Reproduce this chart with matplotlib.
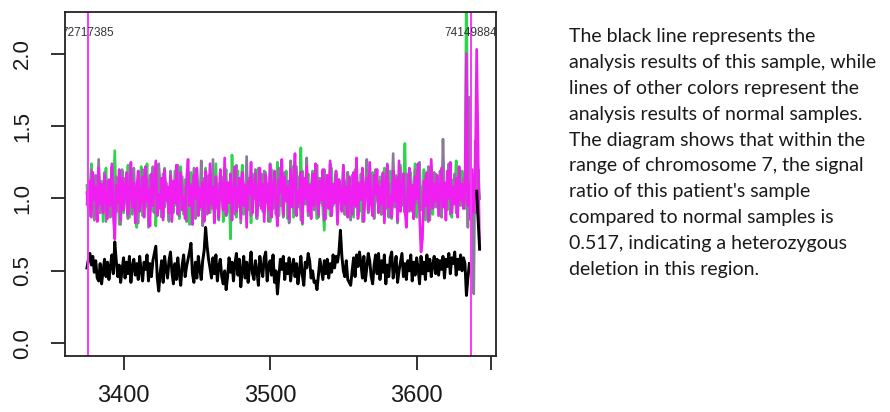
import numpy as np
import matplotlib.pyplot as plt

# probe index of the first point; every series runs one point per probe
start = 3375
x_tail = list(range(3634, 3644))

# ratios in hundredths
black_main = [
    52, 58, 62, 54, 60, 49, 57, 45, 43, 55, 41, 50, 58, 46, 56, 44, 53, 61, 48, 70,
    57, 46, 54, 42, 51, 59, 45, 56, 48, 60, 42, 53, 58, 47, 55, 44, 60, 50, 43, 56,
    51, 61, 43, 55, 46, 57, 62, 67, 45, 36, 49, 57, 42, 60, 51, 45, 57, 63, 49, 41,
    55, 44, 59, 48, 40, 54, 61, 46, 53, 58, 63, 69, 48, 42, 56, 45, 60, 51, 44, 57,
    64, 80, 67, 58, 52, 45, 59, 48, 61, 43, 53, 58, 46, 41, 50, 37, 46, 59, 49, 56,
    43, 55, 62, 47, 58, 39, 50, 60, 45, 56, 42, 53, 63, 48, 44, 57, 50, 40, 60, 52,
    46, 59, 63, 43, 53, 57, 47, 61, 42, 50, 34, 46, 58, 51, 60, 44, 55, 48, 59, 43,
    53, 58, 46, 55, 41, 50, 60, 47, 40, 56, 52, 62, 57, 45, 50, 42, 43, 37, 47, 58,
    51, 44, 57, 48, 58, 45, 55, 49, 61, 52, 60, 56, 63, 78, 60, 50, 46, 57, 44, 42,
    40, 50, 59, 46, 61, 53, 63, 55, 45, 60, 43, 52, 62, 57, 46, 41, 54, 61, 48, 62,
    44, 57, 49, 61, 41, 54, 46, 59, 63, 45, 52, 60, 42, 50, 56, 62, 46, 55, 44, 57,
    50, 61, 43, 56, 47, 59, 52, 41, 60, 48, 56, 44, 61, 50, 58, 46, 54, 60, 48, 58,
    47, 57, 51, 60, 45, 58, 53, 62, 48, 59, 55, 63, 47, 58, 51, 61, 50, 59, 55,
]
black_tail = [33, 45, 55, np.nan, np.nan, np.nan, np.nan, 105, 85, 65]

magenta_main = [
    104, 93, 112, 87, 118, 99, 108, 84, 121, 96, 110, 90, 116, 101, 86, 113, 95, 124, 88, 72,
    109, 97, 120, 85, 114, 92, 105, 118, 89, 102, 125, 94, 111, 83, 107, 119, 91, 100, 115, 87,
    122, 98, 106, 81, 117, 95, 110, 126, 88, 103, 93, 114, 85, 120, 99, 108, 90, 116, 84, 112,
    97, 123, 89, 105, 118, 92, 101, 86, 113, 127, 95, 109, 82, 116, 100, 121, 88, 107, 94, 111,
    84, 119, 102, 90, 124, 96, 108, 83, 115, 99, 87, 120, 105, 92, 128, 89, 111, 97, 117, 85,
    106, 122, 91, 100, 114, 86, 118, 95, 109, 80, 112, 103, 125, 90, 107, 117, 88, 99, 121, 93,
    110, 84, 116, 101, 92, 123, 87, 106, 119, 96, 81, 113, 104, 127, 89, 115, 98, 108, 86, 120,
    94, 111, 131, 88, 105, 97, 118, 83, 114, 100, 122, 91, 109, 86, 117, 95, 124, 102, 89, 112,
    99, 120, 85, 107, 116, 93, 126, 88, 110, 97, 119, 82, 113, 104, 91, 123, 96, 108, 87, 115,
    101, 89, 118, 95, 128, 86, 110, 99, 121, 84, 106, 114, 92, 125, 97, 88, 116, 103, 120, 90,
    108, 96, 117, 83, 111, 123, 94, 102, 87, 119, 98, 113, 85, 126, 91, 107, 117, 93, 80, 104,
    121, 92, 109, 86, 115, 100, 124, 89, 63, 72, 112, 95, 118, 84, 106, 127, 93, 110, 98, 116,
    88, 105, 121, 94, 111, 85, 119, 100, 125, 90, 108, 96, 114, 87, 122, 99, 110, 93, 105,
]
magenta_tail = [200, 95, 110, 85, 120, 90, 115, 203, 130, 65]

gray_main = [
    96, 111, 88, 120, 102, 85, 116, 93, 127, 90, 107, 98, 118, 84, 112, 100, 87, 122, 95, 108,
    115, 91, 104, 82, 119, 94, 110, 99, 86, 117, 103, 89, 121, 97, 108, 83, 114, 101, 120, 92,
    95, 113, 80, 116, 104, 122, 90, 106, 98, 124, 109, 87, 117, 94, 111, 100, 85, 119, 106, 91,
    112, 97, 123, 88, 102, 115, 93, 108, 84, 118, 96, 110, 91, 121, 86, 113, 104, 95, 126, 81,
    114, 99, 89, 116, 105, 93, 127, 90, 107, 98, 85, 118, 102, 94, 121, 88, 109, 97, 115, 92,
    106, 89, 123, 99, 112, 83, 118, 103, 96, 129, 93, 114, 88, 107, 100, 120, 86, 111, 102, 117,
    91, 119, 97, 110, 84, 124, 100, 93, 115, 89, 108, 121, 95, 104, 87, 118, 99, 112, 83, 126,
    98, 107, 90, 122, 94, 113, 85, 119, 101, 96, 128, 88, 110, 99, 116, 92, 105, 123, 87, 114,
    103, 95, 120, 86, 111, 100, 124, 91, 108, 97, 117, 84, 113, 106, 93, 121, 89, 109, 118, 96,
    85, 116, 102, 94, 123, 88, 111, 99, 119, 92, 106, 127, 90, 114, 97, 108, 86, 120, 101, 95,
    112, 89, 118, 105, 93, 124, 87, 110, 98, 131, 94, 115, 83, 107, 121, 96, 104, 90, 117, 99,
    91, 113, 100, 86, 120, 97, 109, 125, 92, 104, 88, 116, 99, 122, 85, 110, 102, 118, 94, 107,
    96, 119, 87, 141, 101, 93, 112, 124, 89, 105, 98, 117, 90, 108, 121, 95, 103, 114, 97,
]
gray_tail = [130, 80, 170, 90, 110, 34, 140, 90, 120, 100]

green_main = [
    109, 90, 103, 124, 93, 115, 86, 106, 118, 97, 112, 84, 107, 121, 95, 110, 88, 117, 100, 133,
    94, 113, 82, 106, 120, 90, 114, 98, 123, 87, 101, 118, 92, 108, 80, 116, 99, 122, 88, 110,
    96, 124, 85, 112, 102, 91, 119, 81, 105, 117, 93, 110, 87, 121, 98, 106, 84, 115, 101, 90,
    119, 95, 108, 86, 122, 100, 89, 113, 97, 105, 82, 118, 94, 111, 88, 120, 103, 92, 116, 107,
    85, 121, 96, 109, 90, 117, 101, 88, 124, 93, 110, 99, 115, 84, 107, 120, 91, 104, 72, 130,
    98, 112, 87, 119, 94, 106, 123, 89, 101, 116, 92, 108, 83, 117, 100, 111, 86, 121, 95, 104,
    113, 90, 118, 97, 105, 84, 120, 93, 110, 99, 125, 88, 107, 116, 91, 103, 119, 86, 112, 96,
    122, 87, 109, 100, 115, 94, 135, 82, 111, 98, 104, 117, 90, 108, 119, 93, 101, 86, 114, 97,
    107, 92, 78, 116, 99, 110, 88, 121, 95, 104, 117, 85, 112, 100, 93, 123, 89, 106, 118, 96,
    102, 114, 87, 120, 98, 109, 91, 117, 84, 111, 103, 125, 92, 106, 96, 118, 88, 113, 101, 94,
    115, 89, 104, 121, 93, 108, 97, 119, 86, 112, 100, 116, 90, 107, 123, 95, 102, 138, 88, 110,
    96, 118, 91, 105, 124, 87, 113, 99, 108, 92, 120, 85, 111, 103, 97, 122, 89, 106, 117, 94,
    101, 115, 88, 123, 96, 109, 92, 118, 105, 87, 113, 100, 126, 91, 107, 97, 119, 110, 93,
]
green_tail = [260, 100, 110, 95, 105, 100, 110, 95, 105, 100]

region_start = 3375.4
region_end = 3637
region_labels = ["72717385", "74149884"]

x_ticks = [3400, 3500, 3600, 3651]
x_ticklabels = ["3400", "3500", "3600", ""]
y_ticks = [0.0, 0.5, 1.0, 1.5, 2.0]

note = [
    "The black line represents the",
    "analysis results of this sample, while",
    "lines of other colors represent the",
    "analysis results of normal samples.",
    "The diagram shows that within the",
    "range of chromosome 7, the signal",
    "ratio of this patient's sample",
    "compared to normal samples is",
    "0.517, indicating a heterozygous",
    "deletion in this region.",
]


def series(main, tail):
    xs = list(range(start, start + len(main))) + x_tail
    ys = np.array(list(main) + list(tail), dtype=float) / 100.0
    return xs, ys


fig = plt.figure(figsize=(8.9, 4.12), dpi=100)
ax = fig.add_axes([0.073, 0.136, 0.484, 0.835])

ax.plot(*series(green_main, green_tail), color="#2ed44a", lw=1.9)
ax.plot(*series(gray_main, gray_tail), color="#8a7a9c", lw=1.9)
ax.plot(*series(magenta_main, magenta_tail), color="#f01ef0", lw=1.9)
ax.plot(*series(black_main, black_tail), color="black", lw=2.1)

ax.axvline(region_start, color="#ff33ff", lw=1.4)
ax.axvline(region_end, color="#ff33ff", lw=1.4)
for pos, lab in zip([region_start, region_end], region_labels):
    ax.text(pos, 2.14, lab, ha="center", va="center", fontsize=8.5,
            color="#333333", family="Liberation Sans", clip_on=True)

ax.set_xlim(3360, 3654)
ax.set_ylim(-0.088, 2.288)
ax.set_xticks(x_ticks)
ax.set_xticklabels(x_ticklabels, family="Liberation Sans", fontsize=17)
ax.set_yticks(y_ticks)
ax.set_yticklabels(["%.1f" % v for v in y_ticks], family="Liberation Sans",
                   fontsize=16, rotation=90, va="center")
ax.tick_params(axis="both", direction="out", length=10, width=1.3,
               color="#222222", labelcolor="#1a1a1a")
ax.tick_params(axis="x", pad=11)
ax.tick_params(axis="y", pad=13)
for s in ax.spines.values():
    s.set_linewidth(1.3)
    s.set_color("#222222")

for k, line in enumerate(note):
    fig.text(569 / 890, 1 - (42 + 25.9 * k) / 412, line, ha="left",
             va="baseline", fontsize=14, family="Lato", color="#1a1a1a")

fig.savefig("out.png", dpi=100)
